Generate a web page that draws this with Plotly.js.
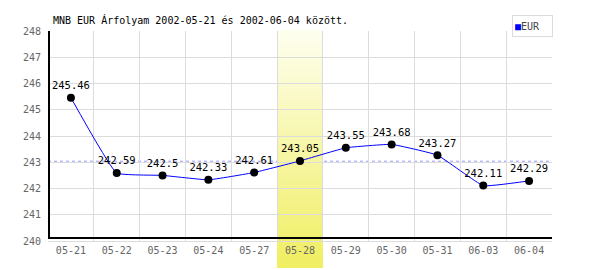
<!DOCTYPE html>
<html>
<head>
<meta charset="utf-8">
<script src="https://cdn.plot.ly/plotly-3.0.1.min.js"></script>
<style>html,body{margin:0;padding:0;background:#fff;}#chart{width:600px;height:270px;}</style>
</head>
<body>
<div id="chart"></div>
<script>
const categories = ['05-21','05-22','05-23','05-24','05-27','05-28','05-29','05-30','05-31','06-03','06-04'];
const eurValues = [245.46, 242.59, 242.5, 242.33, 242.61, 243.05, 243.55, 243.68, 243.27, 242.11, 242.29];
const yTicks = [240, 241, 242, 243, 244, 245, 246, 247, 248];
const highlightCategory = '05-28';
const titleText = 'MNB EUR Árfolyam 2002-05-21 és 2002-06-04 között.';
const seriesName = 'EUR';

(function () {
const mono = 'DejaVu Sans Mono, monospace';
const avg = eurValues.reduce((a, b) => a + b, 0) / eurValues.length;
const hi = categories.indexOf(highlightCategory);

const shapes = [];
// average dashed line
shapes.push({type: 'line', layer: 'between', xref: 'paper', yref: 'y', x0: 0, x1: 1, y0: avg, y1: avg,
  line: {color: '#9a9aff', width: 1, dash: '3px,3px'}});
// gradient band
const N = 80, bandTop = 1.005, bandBot = -0.129;
const c0 = [254, 254, 240], c1 = [240, 238, 96];
for (let i = 0; i < N; i++) {
  const t = (i + 0.5) / N;
  const c = c0.map((v, k) => Math.round(v + (c1[k] - v) * t));
  const yT = bandTop - (bandTop - bandBot) * i / N;
  const yB = bandTop - (bandTop - bandBot) * (i + 1) / N - 0.004;
  shapes.push({type: 'rect', layer: 'between', xref: 'x', yref: 'paper',
    x0: hi - 0.5, x1: hi + 0.5, y0: Math.max(yB, bandBot), y1: yT,
    fillcolor: 'rgb(' + c.join(',') + ')', line: {width: 0}});
}
// axis lines
shapes.push({type: 'line', layer: 'above', xref: 'paper', yref: 'paper', x0: 0, x1: 1, y0: 0.0143, y1: 0.0143,
  line: {color: '#000', width: 2}});
shapes.push({type: 'line', layer: 'above', xref: 'paper', yref: 'paper', x0: 0.002, x1: 0.002, y0: 0.0143, y1: 1,
  line: {color: '#000', width: 2}});

const trace = {
  x: categories, y: eurValues, type: 'scatter', mode: 'lines+markers+text',
  name: seriesName,
  line: {color: '#0000ff', width: 1, shape: 'spline', smoothing: 0.3},
  marker: {color: '#000', size: 8},
  text: eurValues.map(v => String(v)),
  textposition: 'top center',
  textfont: {family: mono, size: 10.5, color: '#000'},
  cliponaxis: false, hoverinfo: 'none', showlegend: false
};

const layout = {
  width: 600, height: 270,
  margin: {l: 48, r: 48, t: 31, b: 29, pad: 0},
  paper_bgcolor: '#fff', plot_bgcolor: '#fff',
  showlegend: false,
  title: {text: titleText, font: {family: mono, size: 10, color: '#000'},
    x: 53 / 600, xanchor: 'left', xref: 'container', y: 1 - 20 / 270, yanchor: 'middle', yref: 'container'},
  xaxis: {type: 'category', range: [-0.5, categories.length - 0.5], tickson: 'boundaries',
    showgrid: true, gridcolor: '#dcdcdc', gridwidth: 1,
    showline: true, linecolor: '#dcdcdc', linewidth: 1, mirror: false,
    ticks: '', zeroline: false, fixedrange: true,
    tickfont: {family: mono, size: 10, color: '#666'}},
  yaxis: {range: [240, 248], tickvals: yTicks, ticktext: yTicks.map(String),
    showgrid: true, gridcolor: '#dcdcdc', gridwidth: 1, showline: false, zeroline: false,
    ticks: '', ticklabelstandoff: 6, fixedrange: true,
    tickfont: {family: mono, size: 10, color: '#666'}},
  shapes: shapes,
  annotations: [{
    xref: 'paper', yref: 'paper', x: 1.001, y: (241 - 15) / 210, xanchor: 'right', yanchor: 'top',
    text: '<span style="color:#0000ff">■</span>' + seriesName, showarrow: false, align: 'left',
    font: {family: mono, size: 10, color: '#444'},
    bgcolor: '#fff', bordercolor: '#dcdcdc', borderwidth: 1, borderpad: 2, width: 35, height: 16
  }]
};

Plotly.newPlot('chart', [trace], layout, {staticPlot: true, displayModeBar: false});
})();
</script>
</body>
</html>
